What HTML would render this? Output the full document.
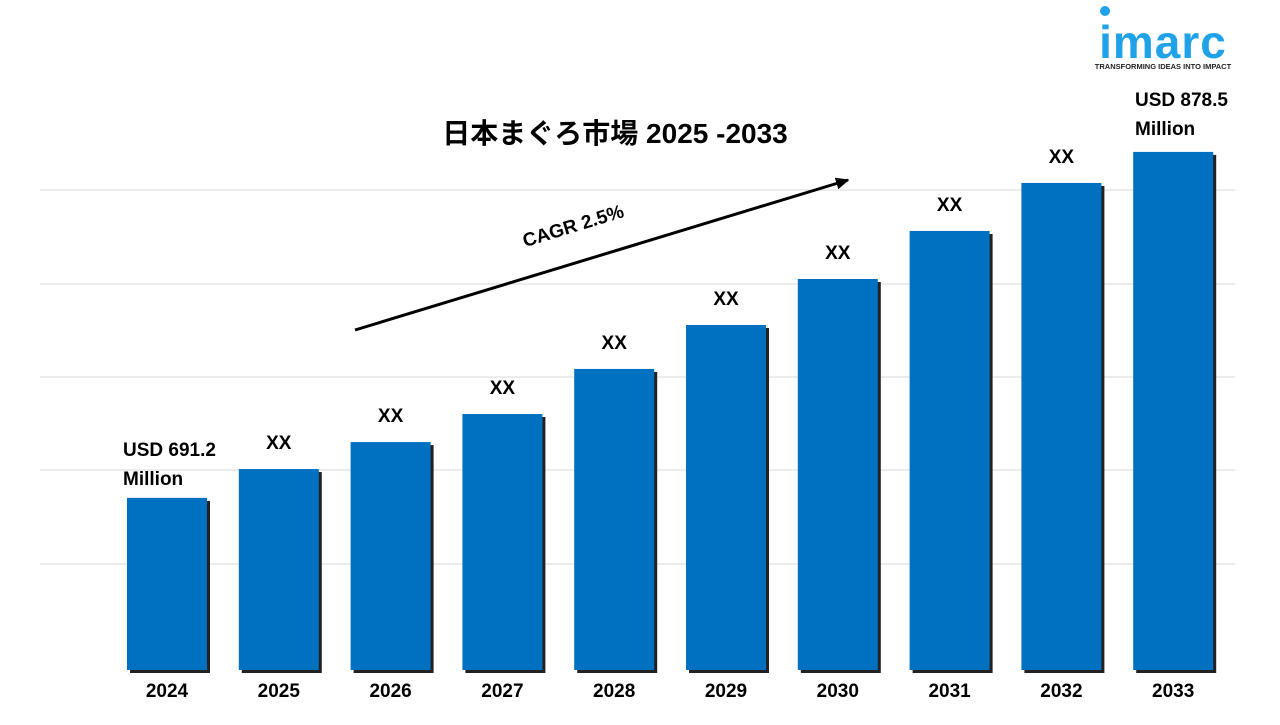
<!DOCTYPE html>
<html><head><meta charset="utf-8"><style>
body{margin:0;background:#fff;}
svg text{font-family:"Liberation Sans","Noto Sans CJK JP",sans-serif;font-weight:bold;}
</style></head><body>
<svg id="chart" width="1280" height="720" viewBox="0 0 1280 720" xmlns="http://www.w3.org/2000/svg">
<defs><marker id="ah" markerWidth="5" markerHeight="5" refX="4" refY="2.5" orient="auto"><path d="M0,0.5 L4.5,2.5 L0,4.5 z" fill="#000"/></marker></defs>
<g id="grid"></g>
<g id="bars"></g>
<text x="615" y="143" font-size="28" text-anchor="middle" fill="#000">日本まぐろ市場 2025 -2033</text>
<line x1="355" y1="330" x2="848" y2="180" stroke="#000" stroke-width="3" marker-end="url(#ah)"/>
<text x="575" y="232" font-size="19" text-anchor="middle" transform="rotate(-17 575 232)" fill="#000">CAGR 2.5%</text>
<text x="123" y="456" font-size="19" fill="#000">USD 691.2</text>
<text x="123" y="485" font-size="19" fill="#000">Million</text>
<text x="1135" y="106" font-size="19" fill="#000">USD 878.5</text>
<text x="1135" y="135" font-size="19" fill="#000">Million</text>
<g>
<circle cx="1105" cy="11" r="5" fill="#1fa2e8"/>
<text x="1163" y="58" font-size="46" text-anchor="middle" fill="#1fa2e8" font-family="Liberation Sans" style="letter-spacing:1px">imarc</text>
<text x="1163" y="69" font-size="7.5" text-anchor="middle" fill="#222">TRANSFORMING IDEAS INTO IMPACT</text>
</g>
</svg>
<script>
const years=["2024","2025","2026","2027","2028","2029","2030","2031","2032","2033"];
const values=[691.2,706.8,721.4,736.6,761,784.8,809.7,835.7,861.7,878.5];
const topLabels=["","XX","XX","XX","XX","XX","XX","XX","XX",""];
const NS="http://www.w3.org/2000/svg";
const base=670, v0=598, k=1.847;
function yScale(v){return base-(v-v0)*k;}
function xScale(i){return 127+i*111.8;}
const bw=80;
const g=document.getElementById('grid');
[190,284,377,470,564].forEach(y=>{const l=document.createElementNS(NS,'line');


l.setAttribute('x1',40);l.setAttribute('x2',1235);l.setAttribute('y1',y);l.setAttribute('y2',y);l.setAttribute('stroke','#d9d9d9');l.setAttribute('stroke-width',1);g.appendChild(l);});
const b=document.getElementById('bars');
years.forEach((yr,i)=>{
 const x=xScale(i), y=yScale(values[i]);
 const s=document.createElementNS(NS,'rect');
 
 
 s.setAttribute('x',x+3);s.setAttribute('y',y+3);s.setAttribute('width',bw);s.setAttribute('height',base-y);s.setAttribute('fill','#222');b.appendChild(s);
 const r=document.createElementNS(NS,'rect');
 
 
 r.setAttribute('x',x);r.setAttribute('y',y);r.setAttribute('width',bw);r.setAttribute('height',base-y);r.setAttribute('fill','#0070c0');b.appendChild(r);
 const t=document.createElementNS(NS,'text');
 
 
 t.setAttribute('x',x+bw/2);t.setAttribute('y',697);t.setAttribute('font-size',19);t.setAttribute('text-anchor','middle');t.textContent=yr;b.appendChild(t);
 if(topLabels[i]){const v=document.createElementNS(NS,'text');
 
 
 v.setAttribute('x',x+bw/2);v.setAttribute('y',y-20);v.setAttribute('font-size',19);v.setAttribute('text-anchor','middle');v.textContent=topLabels[i];b.appendChild(v);}
});
</script>
</body></html>
